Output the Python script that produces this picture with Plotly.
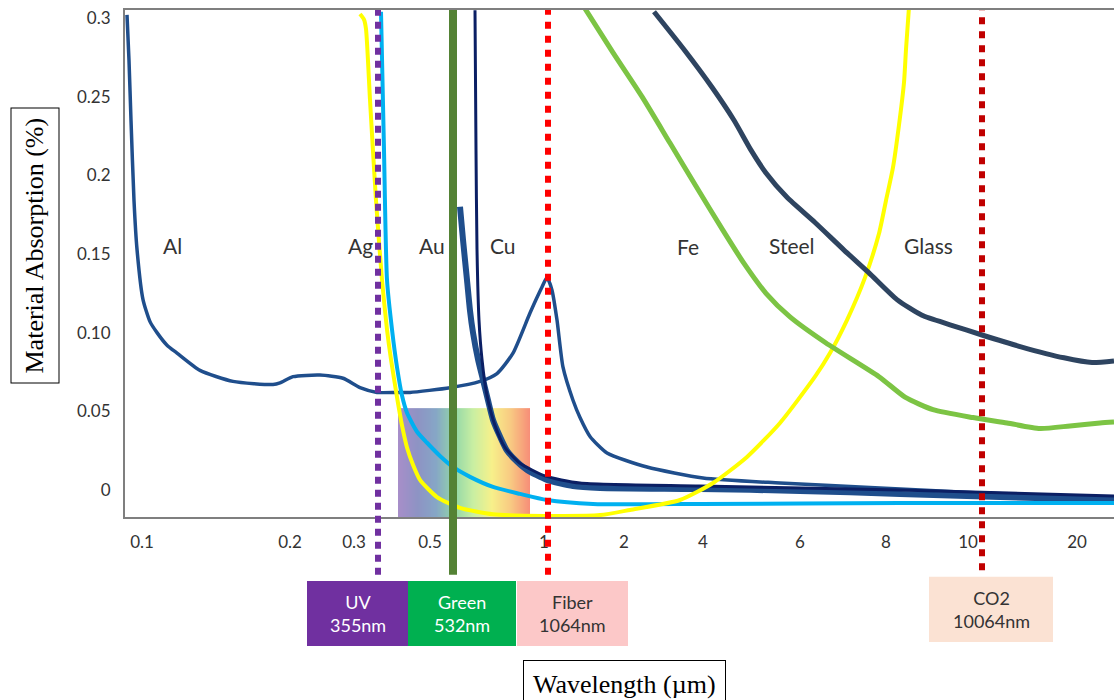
import plotly.graph_objects as go

# ---------------- data ----------------
# x values are positions along the chart's non-uniform wavelength axis
# (axis runs 0..989); tick labels give the wavelength in micrometres.
x_tick_labels = ["0.1", "0.2", "0.3", "0.5", "1", "2", "4", "6", "8", "10", "20"]
x_tick_pos = [17, 165, 229, 305, 419, 499, 578, 675, 761, 843, 952]

y_tick_vals = [0.3, 0.25, 0.2, 0.15, 0.10, 0.05, 0]
y_tick_labels = ["0.3", "0.25", "0.2", "0.15", "0.10", "0.05", "0"]

al_x = [2, 4, 6, 9, 12, 18, 25, 32, 42, 52, 75, 108, 148, 155, 168, 195, 218, 235, 252, 272,
        285, 325, 355, 372, 388, 405, 417, 422, 427, 432, 438, 448, 455, 465, 482, 522, 578,
        655, 755, 855, 989]
al_y = [0.302, 0.273, 0.235, 0.184, 0.153, 0.121, 0.107, 0.100, 0.092, 0.087, 0.076, 0.069,
        0.067, 0.068, 0.072, 0.073, 0.071, 0.065, 0.062, 0.062, 0.062, 0.065, 0.069, 0.074,
        0.087, 0.1125, 0.129, 0.135, 0.127, 0.108, 0.078, 0.057, 0.046, 0.034, 0.0235, 0.0146,
        0.0076, 0.0044, 0.0013, -0.0019, -0.0051]

cu_x = [335, 338, 342, 345, 348, 353, 358, 363, 368, 375, 382, 392, 402, 422, 448, 475, 575,
        675, 775, 875, 989]
cu_y = [0.180, 0.159, 0.1335, 0.114, 0.100, 0.083, 0.070, 0.057, 0.0445, 0.034, 0.025, 0.018,
        0.0127, 0.0064, 0.0025, 0.0013, 0.0006, -0.0006, -0.0025, -0.0045, -0.0064]

au_x = [350, 351, 352, 354, 357, 362, 370, 380, 395, 420, 455, 575, 775, 989]
au_y = [0.305, 0.216, 0.153, 0.108, 0.083, 0.060, 0.041, 0.027, 0.017, 0.0089, 0.0044,
        0.0025, 0.0, -0.0038]

ag_x = [256, 259, 262, 267, 272, 277, 282, 292, 302, 315, 328, 345, 368, 395, 422, 468, 575,
        775, 989]
ag_y = [0.304, 0.216, 0.1335, 0.102, 0.078, 0.060, 0.049, 0.037, 0.030, 0.0216, 0.0146,
        0.0083, 0.0019, -0.0025, -0.0064, -0.0089, -0.0089, -0.0083, -0.0083]

glass_x = [235, 239, 241, 245, 251, 257, 262, 266, 272, 277, 282, 288, 295, 312, 335, 368,
           420, 475, 505, 555, 588, 622, 655, 690, 705, 722, 740, 754, 761, 768, 774, 779,
           781, 784]
glass_y = [0.3025, 0.299, 0.293, 0.248, 0.184, 0.1335, 0.102, 0.083, 0.059, 0.041, 0.027,
           0.016, 0.0064, -0.0045, -0.0114, -0.0155, -0.0165, -0.0160, -0.0127, -0.0064,
           0.0044, 0.021, 0.0426, 0.072, 0.087, 0.108, 0.135, 0.163, 0.184, 0.205, 0.232,
           0.259, 0.280, 0.307]

fe_x = [529, 559, 587, 609, 626, 641, 662, 690, 719, 744, 772, 797, 825, 857, 896, 939, 967, 989]
fe_y = [0.304, 0.280, 0.256, 0.235, 0.216, 0.2015, 0.186, 0.170, 0.1525, 0.138, 0.121, 0.111,
        0.105, 0.0985, 0.091, 0.084, 0.081, 0.082]

steel_x = [460, 488, 517, 545, 573, 598, 619, 641, 665, 701, 754, 780, 808, 848, 882, 915, 945,
           975, 989]
steel_y = [0.306, 0.278, 0.250, 0.2205, 0.191, 0.165, 0.144, 0.125, 0.110, 0.0934, 0.072,
           0.059, 0.051, 0.046, 0.0426, 0.039, 0.0407, 0.0426, 0.0432]

material_names = ["Al", "Ag", "Au", "Cu", "Fe", "Steel", "Glass"]
material_label_x = [47, 235, 307, 378, 563, 667, 803]
material_label_y = [0.1557, 0.1557, 0.1557, 0.1557, 0.1545, 0.1557, 0.1557]

# laser wavelengths (positions on the axis)
laser_names = ["UV<br>355nm", "Green<br>532nm", "Fiber<br>1064nm", "CO2<br>10064nm"]
laser_pos = [253, 328, 423, 857]

# visible-spectrum band
band_x_range = [273, 405]
band_top = 0.052
band_colors = ["#a78ec9", "#8e93c4", "#86a6c6", "#93d7a8", "#c9efa2", "#f7f08a",
               "#f8c982", "#f78f78"]

# ---------------- figure ----------------
Y_MIN, Y_MAX = -0.0172, 0.3051
fig = go.Figure()

# gradient band (heatmap)
ncol = 132
bx = [band_x_range[0] + (band_x_range[1] - band_x_range[0]) * i / ncol for i in range(ncol + 1)]
bz = [[i for i in range(ncol)]]
cs = [[i / (len(band_colors) - 1), c] for i, c in enumerate(band_colors)]
fig.add_trace(go.Heatmap(x=bx, y=[Y_MIN, band_top], z=bz, colorscale=cs, showscale=False,
                         hoverinfo="skip", zmin=0, zmax=ncol - 1))

def curve(x, y, color, width):
    fig.add_trace(go.Scatter(x=x, y=y, mode="lines", line=dict(color=color, width=width,
                             shape="spline", smoothing=0.6), hoverinfo="skip"))

curve(al_x, al_y, "#1f4e8c", 3.5)
curve(cu_x, cu_y, "#1f4e8c", 6)
curve(au_x, au_y, "#0b1f64", 3)
curve(ag_x, ag_y, "#00b0f0", 4)
curve(glass_x, glass_y, "#ffff00", 4)
curve(steel_x, steel_y, "#7cc444", 5)
curve(fe_x, fe_y, "#2e4460", 5)

shapes = []
line_bottom = -0.114
shapes.append(dict(type="line", xref="x", yref="paper", x0=laser_pos[0], x1=laser_pos[0],
                   y0=line_bottom, y1=1, line=dict(color="#7030a0", width=6, dash="7px,6px")))
shapes.append(dict(type="line", xref="x", yref="paper", x0=laser_pos[1], x1=laser_pos[1],
                   y0=line_bottom, y1=1, line=dict(color="#548235", width=8)))
shapes.append(dict(type="line", xref="x", yref="paper", x0=laser_pos[2], x1=laser_pos[2],
                   y0=line_bottom, y1=1, line=dict(color="#ff0000", width=6, dash="7px,7px")))
shapes.append(dict(type="line", xref="x", yref="paper", x0=laser_pos[3], x1=laser_pos[3],
                   y0=-0.105, y1=1, line=dict(color="#c00000", width=6, dash="7px,7px")))

# laser boxes
box_x = [(182, 283), (283, 391), (392, 503), (804, 928)]
box_y = [(-0.2544, -0.126), (-0.2544, -0.126), (-0.2544, -0.126), (-0.2465, -0.118)]
box_fill = ["#7030a0", "#00b050", "#fcc8c8", "#fbe2d3"]
box_text_color = ["white", "white", "#333333", "#333333"]
annotations = []
for (x0, x1), (y0, y1), fc, tc, name in zip(box_x, box_y, box_fill, box_text_color, laser_names):
    shapes.append(dict(type="rect", xref="x", yref="paper", x0=x0, x1=x1, y0=y0, y1=y1,
                       fillcolor=fc, line=dict(width=0), layer="above"))
    annotations.append(dict(xref="x", yref="paper", x=(x0 + x1) / 2, y=(y0 + y1) / 2,
                            xanchor="center", yanchor="middle",
                            text=name, showarrow=False,
                            font=dict(family="Lato", size=18, color=tc)))

for name, lx, ly in zip(material_names, material_label_x, material_label_y):
    annotations.append(dict(x=lx, y=ly, text=name, showarrow=False,
                            xanchor="center", yanchor="middle",
                            font=dict(family="Lato", size=21, color="#333333")))

annotations.append(dict(xref="paper", yref="paper", x=0.505, y=-0.331, text="Wavelength (µm)",
                        xanchor="center", yanchor="middle",
                        showarrow=False, font=dict(family="Liberation Serif", size=26, color="black"),
                        bordercolor="black", borderwidth=1, borderpad=9, bgcolor="white"))
annotations.append(dict(xref="paper", yref="paper", x=-0.091, y=0.5355,
                        xanchor="center", yanchor="middle",
                        text="Material Absorption (%)", textangle=-90, showarrow=False,
                        font=dict(family="Liberation Serif", size=26, color="black"),
                        bordercolor="black", borderwidth=1, borderpad=9, bgcolor="white"))

fig.update_layout(
    width=1116, height=700, margin=dict(l=125, r=2, t=10, b=183),
    plot_bgcolor="white", paper_bgcolor="white", showlegend=False,
    shapes=shapes, annotations=annotations,
    xaxis=dict(range=[0, 989], tickvals=x_tick_pos, ticktext=x_tick_labels, showgrid=False,
               zeroline=False, showline=True, linecolor="#7f7f7f", linewidth=2, mirror=True,
               ticks="", ticklabelstandoff=9,
               tickfont=dict(family="Lato", size=17, color="#333333")),
    yaxis=dict(range=[Y_MIN, Y_MAX], tickvals=y_tick_vals, ticktext=y_tick_labels,
               showgrid=False, zeroline=False, showline=True, linecolor="#7f7f7f", linewidth=2,
               ticks="", ticklabelstandoff=9,
               tickfont=dict(family="Lato", size=17, color="#333333")),
)

fig.write_html("out.html")
